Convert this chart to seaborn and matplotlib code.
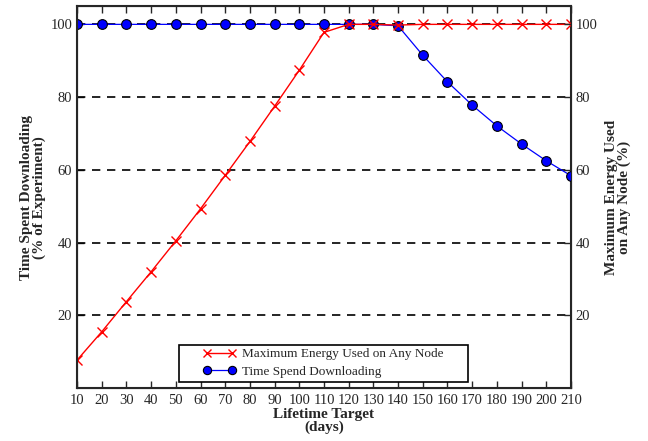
import pandas as pd
import matplotlib
matplotlib.use("Agg")
import matplotlib.pyplot as plt
from matplotlib.patches import Rectangle
import seaborn as sns

# Data
lifetime_days = [10, 20, 30, 40, 50, 60, 70, 80, 90, 100, 110,
                 120, 130, 140, 150, 160, 170, 180, 190, 200, 210]
max_energy = [7.7, 15.5, 23.8, 32.0, 40.5, 49.3, 58.5, 67.8, 77.5, 87.4, 97.8,
              100, 100, 99.8, 100, 100, 100, 100, 100, 100, 100]
time_downloading = [100, 100, 100, 100, 100, 100, 100, 100, 100, 100, 100,
                    100, 100, 99.6, 91.5, 84.2, 77.8, 72.1, 67.1, 62.5, 58.4]
y_ticks = [20, 40, 60, 80, 100]

sns.set_style("ticks")
plt.rcParams['font.family'] = ['Liberation Serif', 'DejaVu Serif']
plt.rcParams['xtick.direction'] = 'in'
plt.rcParams['ytick.direction'] = 'in'

df = pd.DataFrame({'days': lifetime_days, 'energy': max_energy,
                   'download': time_downloading})

fig = plt.figure(figsize=(6.48, 4.41), dpi=100)
ax = fig.add_axes([0.119, 0.12, 0.762, 0.866])

for y in y_ticks:
    ax.axhline(y, color='black', linestyle=(0, (5, 4)), linewidth=1.2, zorder=1)

sns.lineplot(data=df, x='days', y='download', ax=ax, color='#0000ff',
             marker='o', markersize=7, markerfacecolor='#0000ff',
             markeredgecolor='black', markeredgewidth=0.8, linewidth=0.9,
             label='Time Spend Downloading', zorder=3)
sns.lineplot(data=df, x='days', y='energy', ax=ax, color='#ff0000',
             marker='x', markersize=7, markeredgecolor='#ff0000',
             markeredgewidth=1, linewidth=1,
             label='Maximum Energy Used on Any Node', zorder=4)

ax.set_xlim(10, 210)
ax.set_ylim(0, 105)
ax.set_xticks(lifetime_days)
ax.set_yticks(y_ticks)
ax.tick_params(axis='x', top=True, labelsize=10.5, length=5, width=1, pad=4)
ax.tick_params(axis='y', labelsize=10.5, length=5, width=1)
for s in ax.spines.values():
    s.set_linewidth(1.5)

ax.set_xlabel('Lifetime Target\n(days)', fontsize=11, fontweight='bold',
              linespacing=0.95, labelpad=1)
ax.set_ylabel('Time Spent Downloading\n(% of Experiment)', fontsize=11,
              fontweight='bold', linespacing=1.0, labelpad=3)

ax2 = ax.twinx()
ax2.set_ylim(0, 105)
ax2.set_yticks(y_ticks)
ax2.tick_params(axis='y', labelsize=10.5, length=5, width=1, direction='in')
ax2.set_ylabel('Maximum Energy Used\non Any Node (%)', fontsize=11,
               fontweight='bold', linespacing=1.0, labelpad=5)

# legend box drawn separately so its padding can match the original
ax.add_patch(Rectangle((0.2065, 0.0157), 0.585, 0.097, transform=ax.transAxes,
                       facecolor='white', edgecolor='black', linewidth=1.2,
                       zorder=5))
handles, labels = ax.get_legend_handles_labels()
leg = ax.legend(handles[::-1], labels[::-1], loc='center left',
                bbox_to_anchor=(0.255, 0.0654), fontsize=9.5, frameon=False,
                numpoints=2, handlelength=2.5, handletextpad=0.45,
                borderpad=0, labelspacing=0.4, borderaxespad=0,
                markerscale=0.85)
leg.set_zorder(6)

fig.savefig('out.png', dpi=100)
